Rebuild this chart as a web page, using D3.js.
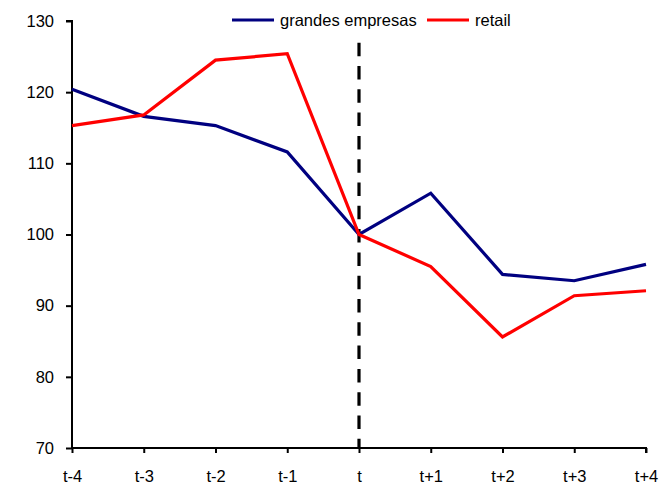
<!DOCTYPE html>
<html>
<head>
<meta charset="utf-8">
<script src="https://cdn.jsdelivr.net/npm/d3@7"></script>
<style>
  html, body { margin: 0; padding: 0; background: #fff; }
  svg text { font-family: "Liberation Sans", Arial, sans-serif; fill: #000; }
</style>
</head>
<body>
<svg id="chart" width="662" height="487"></svg>
<script>
// Periods around the event date t
const periods = ["t-4", "t-3", "t-2", "t-1", "t", "t+1", "t+2", "t+3", "t+4"];
// Index values (t = 100)
const grandesEmpresas = [120.4, 116.6, 115.3, 111.6, 100, 105.8, 94.4, 93.5, 95.8];
const retail = [115.3, 116.8, 124.5, 125.4, 100, 95.5, 85.6, 91.4, 92.1];
const yTicks = [70, 80, 90, 100, 110, 120, 130];
const seriesNames = ["grandes empresas", "retail"];
const seriesColors = ["#000080", "#ff0000"];
const eventPeriod = "t";

const svg = d3.select("#chart");
const margin = { left: 72, right: 16, top: 21, bottom: 39 };
const width = 662, height = 487;

const x = d3.scalePoint()
  .domain(periods)
  .range([margin.left, width - margin.right])
  .padding(0);

const y = d3.scaleLinear()
  .domain([70, 130])
  .range([height - margin.bottom, margin.top]);

const fontSize = "16.5px";

// Y axis
const yAxis = svg.append("g")
  .attr("transform", `translate(${margin.left},0)`)
  .call(d3.axisLeft(y).tickValues(yTicks).tickSize(6).tickPadding(12).tickFormat(d3.format("d")));
yAxis.selectAll("text").style("font-size", fontSize);

// X axis
const xAxis = svg.append("g")
  .attr("transform", `translate(0,${y(70)})`)
  .call(d3.axisBottom(x).tickSize(5).tickPadding(17));
xAxis.selectAll("text").style("font-size", fontSize);

[yAxis, xAxis].forEach(g => {
  g.select(".domain").attr("stroke", "#000").attr("stroke-width", 2);
  g.selectAll(".tick line").attr("stroke", "#000").attr("stroke-width", 2);
});
yAxis.select(".domain").attr("d", `M-6,${y(130)}H0V${y(70)}`);
xAxis.select(".domain").attr("d", `M${x(periods[0])},0H${x(periods[periods.length - 1])}V5`);

// Dashed marker at the event period
svg.append("line")
  .attr("x1", x(eventPeriod)).attr("x2", x(eventPeriod))
  .attr("y1", y(126.95)).attr("y2", y(70))
  .attr("stroke", "#000")
  .attr("stroke-width", 3.2)
  .attr("stroke-dasharray", "13.5,9.8");

// Series lines
const line = d3.line()
  .x((d, i) => x(periods[i]))
  .y(d => y(d));

[grandesEmpresas, retail].forEach((vals, i) => {
  svg.append("path")
    .datum(vals)
    .attr("fill", "none")
    .attr("stroke", seriesColors[i])
    .attr("stroke-width", 3.2)
    .attr("stroke-linejoin", "miter")
    .attr("d", line);
});

// Legend
const legend = svg.append("g").attr("transform", "translate(232,20)");
const legendItems = [
  { name: seriesNames[0], color: seriesColors[0], x: 0 },
  { name: seriesNames[1], color: seriesColors[1], x: 195 }
];
legendItems.forEach(item => {
  legend.append("line")
    .attr("x1", item.x).attr("x2", item.x + 42)
    .attr("y1", 0).attr("y2", 0)
    .attr("stroke", item.color)
    .attr("stroke-width", 3.2);
  legend.append("text")
    .attr("x", item.x + 48)
    .attr("y", 6)
    .style("font-size", fontSize)
    .text(item.name);
});
</script>
</body>
</html>
